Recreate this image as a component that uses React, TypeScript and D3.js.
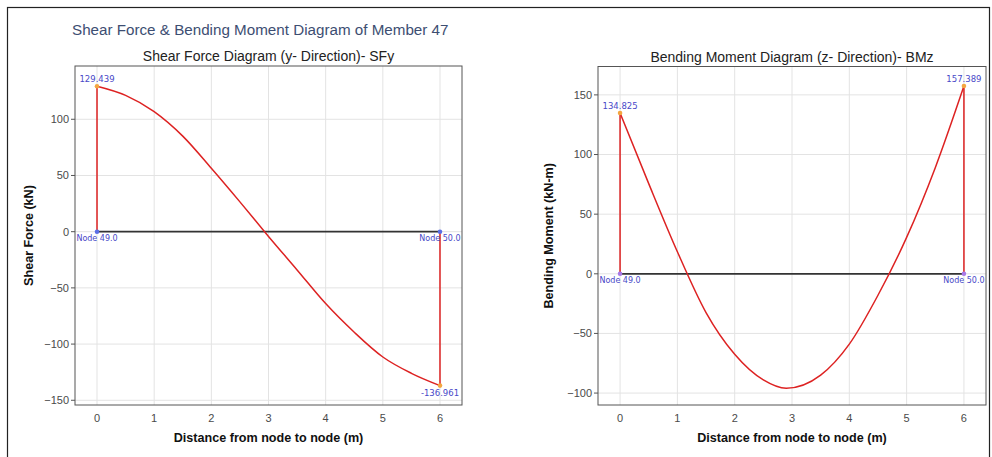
import React from "react";
import * as d3 from "d3";

const sfX = [0, 0.5, 1, 1.5, 2, 2.5, 3, 3.5, 4, 4.5, 5, 5.5, 6];
const sfY = [129.439, 121.3, 106.8, 85.0, 56.4, 26.5, -4.2, -34.0, -64.0, -89.5, -111.5, -126.0, -136.961];
const bmX = [0, 0.5, 1, 1.5, 2, 2.5, 2.9, 3.5, 4, 4.5, 5, 5.5, 6];
const bmY = [134.825, 75.6, 18.5, -32.5, -67.5, -89.0, -96.0, -85.0, -59.0, -18.0, 30.5, 89.0, 157.389];
const xTicks = [0, 1, 2, 3, 4, 5, 6];
const sfTicks = [-150, -100, -50, 0, 50, 100];
const bmTicks = [-100, -50, 0, 50, 100, 150];
const nodeLabels = ["Node 49.0", "Node 50.0"];

const FONT = "'Liberation Sans', Arial, sans-serif";
const AFONT = "'DejaVu Sans', Verdana, sans-serif";

type PanelProps = {
  left: number; top: number; right: number; bottom: number;
  xs: number[]; ys: number[]; yDomain: [number, number]; yTicks: number[];
  title: string; yTitle: string; yTitleOffset: number; nodeColor: string;
  startLabelAbove: boolean; endLabelAbove: boolean;
};

function Panel(p: PanelProps) {
  const x = d3.scaleLinear().domain([-0.385, 6.385]).range([p.left, p.right]);
  const y = d3.scaleLinear().domain(p.yDomain).range([p.bottom, p.top]);
  const pts: [number, number][] = p.xs.map((v, i) => [v, p.ys[i]]);
  const line = d3.line<[number, number]>().x(d => x(d[0])).y(d => y(d[1])).curve(d3.curveMonotoneX);
  const n = p.xs.length;
  const x0 = p.xs[0], x1 = p.xs[n - 1];
  const v0 = p.ys[0], v1 = p.ys[n - 1];
  const cx = (p.left + p.right) / 2;
  const cy = (p.top + p.bottom) / 2;
  const red = "#dd2222";
  return (
    <g>
      <text x={cx} y={p.top - 5} textAnchor="middle" fontFamily={FONT} fontSize={14} fill="#222">{p.title}</text>
      {xTicks.map(t => (
        <line key={"gx" + t} x1={x(t)} x2={x(t)} y1={p.top} y2={p.bottom} stroke="#e3e3e3" strokeWidth={1} />
      ))}
      {p.yTicks.map(t => (
        <line key={"gy" + t} x1={p.left} x2={p.right} y1={y(t)} y2={y(t)} stroke="#e3e3e3" strokeWidth={1} />
      ))}
      <rect x={p.left} y={p.top} width={p.right - p.left} height={p.bottom - p.top} fill="none" stroke="#555" strokeWidth={1} />
      {p.yTicks.map(t => (
        <g key={"ty" + t}>
          <line x1={p.left - 4} x2={p.left} y1={y(t)} y2={y(t)} stroke="#555" strokeWidth={1} />
          <text x={p.left - 6} y={y(t)} dy="0.35em" textAnchor="end" fontFamily={FONT} fontSize={11} fill="#4a4a4a">{t < 0 ? "\u2212" + Math.abs(t) : t}</text>
        </g>
      ))}
      {xTicks.map(t => (
        <text key={"tx" + t} x={x(t)} y={p.bottom + 17} textAnchor="middle" fontFamily={FONT} fontSize={11} fill="#4a4a4a">{t}</text>
      ))}
      <text x={cx} y={p.bottom + 37} textAnchor="middle" fontFamily={FONT} fontSize={12.6} fontWeight="bold" fill="#111">Distance from node to node (m)</text>
      <text transform={`translate(${p.left - p.yTitleOffset},${cy}) rotate(-90)`} textAnchor="middle" fontFamily={FONT} fontSize={12.6} fontWeight="bold" fill="#111">{p.yTitle}</text>
      <line x1={x(x0)} x2={x(x1)} y1={y(0)} y2={y(0)} stroke="#333" strokeWidth={1.8} />
      <line x1={x(x0)} x2={x(x0)} y1={y(0)} y2={y(v0)} stroke={red} strokeWidth={1.5} />
      <line x1={x(x1)} x2={x(x1)} y1={y(0)} y2={y(v1)} stroke={red} strokeWidth={1.5} />
      <path d={line(pts) || ""} fill="none" stroke={red} strokeWidth={1.5} />
      <circle cx={x(x0)} cy={y(v0)} r={2.3} fill="#f4a640" />
      <circle cx={x(x1)} cy={y(v1)} r={2.3} fill="#f4a640" />
      <circle cx={x(x0)} cy={y(0)} r={2.3} fill={p.nodeColor} />
      <circle cx={x(x1)} cy={y(0)} r={2.3} fill={p.nodeColor} />
      <text x={x(x0)} y={y(0) + 9.5} textAnchor="middle" fontFamily={AFONT} fontSize={8} fill="#4848c8">{nodeLabels[0]}</text>
      <text x={x(x1)} y={y(0) + 9.5} textAnchor="middle" fontFamily={AFONT} fontSize={8} fill="#4848c8">{nodeLabels[1]}</text>
      <text x={x(x0)} y={p.startLabelAbove ? y(v0) - 4 : y(v0) + 10} textAnchor="middle" fontFamily={AFONT} fontSize={8.5} fill="#4848c8">{v0.toFixed(3)}</text>
      <text x={x(x1)} y={p.endLabelAbove ? y(v1) - 4 : y(v1) + 10} textAnchor="middle" fontFamily={AFONT} fontSize={8.5} fill="#4848c8">{v1.toFixed(3)}</text>
    </g>
  );
}

export default function App() {
  return (
    <svg width={992} height={457} style={{ position: "absolute", left: 0, top: 0, background: "#fff" }}>
      <rect x={7.5} y={7.5} width={982} height={470} fill="none" stroke="#222" strokeWidth={1.2} />
      <text x={72} y={35} fontFamily={FONT} fontSize={15.2} fill="#3d4e72">Shear Force &amp; Bending Moment Diagram of Member 47</text>
      <Panel left={75} top={66} right={462} bottom={405} xs={sfX} ys={sfY} yDomain={[-154.2, 147.4]} yTicks={sfTicks}
        title="Shear Force Diagram (y- Direction)- SFy" yTitle="Shear Force (kN)" yTitleOffset={42} nodeColor="#5a6ee6"
        startLabelAbove={true} endLabelAbove={false} />
      <Panel left={598} top={66.5} right={986} bottom={405} xs={bmX} ys={bmY} yDomain={[-110, 173.8]} yTicks={bmTicks}
        title="Bending Moment Diagram (z- Direction)- BMz" yTitle="Bending Moment (kN-m)" yTitleOffset={45} nodeColor="#a878e8"
        startLabelAbove={true} endLabelAbove={true} />
    </svg>
  );
}
